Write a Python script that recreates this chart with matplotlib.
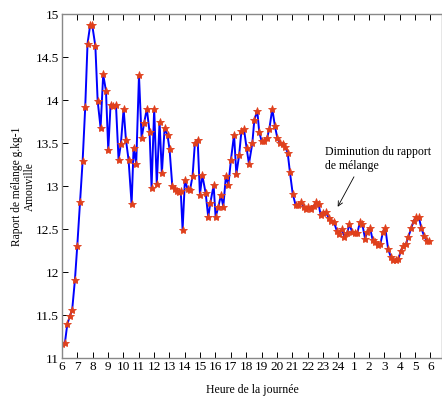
import numpy as np
import matplotlib
matplotlib.use("Agg")
import matplotlib.pyplot as plt

# heure de la journée (6h -> 6h le lendemain, 24h..30h = 0h..6h)
hours = [6.00, 6.20, 6.35, 6.52, 6.67, 6.85, 7.00, 7.18, 7.35, 7.52, 7.67, 7.84,
         7.98, 8.18, 8.33, 8.52, 8.69, 8.87, 9.02, 9.17, 9.34, 9.52, 9.69, 9.84,
         10.02, 10.17, 10.34, 10.54, 10.67, 10.84, 11.02, 11.19, 11.36, 11.53, 11.71, 11.84,
         12.01, 12.18, 12.36, 12.51, 12.69, 12.88, 13.01, 13.19, 13.34, 13.49, 13.62, 13.74,
         13.86, 14.01, 14.18, 14.34, 14.51, 14.66, 14.84, 14.99, 15.14, 15.36, 15.53, 15.66,
         15.88, 16.01, 16.19, 16.36, 16.51, 16.68, 16.84, 17.01, 17.21, 17.36, 17.54, 17.69,
         17.86, 18.03, 18.18, 18.40, 18.53, 18.72, 18.85, 19.01, 19.18, 19.36, 19.51, 19.70,
         19.87, 20.03, 20.20, 20.38, 20.53, 20.70, 20.85, 21.03, 21.22, 21.39, 21.57, 21.74,
         21.89, 22.04, 22.22, 22.40, 22.57, 22.72, 22.85, 23.02, 23.18, 23.37, 23.54, 23.72,
         23.90, 24.07, 24.24, 24.39, 24.57, 24.72, 24.89, 25.07, 25.24, 25.41, 25.56, 25.74,
         25.89, 26.07, 26.24, 26.39, 26.57, 26.74, 26.91, 27.06, 27.24, 27.41, 27.58, 27.76,
         27.91, 28.07, 28.24, 28.41, 28.56, 28.74, 28.91, 29.08, 29.24, 29.41, 29.58, 29.76,
         29.93]

# rapport de mélange (g/kg)
mixing = [11.16, 11.18, 11.39, 11.49, 11.56, 11.91, 12.30, 12.81, 13.29, 13.92, 14.66, 14.87,
          14.87, 14.63, 13.99, 13.68, 14.30, 14.11, 13.42, 13.95, 13.93, 13.95, 13.31, 13.49,
          13.90, 13.54, 13.31, 12.79, 13.45, 13.26, 14.29, 13.56, 13.74, 13.90, 13.63, 12.98,
          13.90, 13.02, 13.75, 13.15, 13.68, 13.59, 13.43, 13.00, 12.97, 12.94, 12.93, 12.94,
          12.49, 13.07, 12.97, 12.95, 13.12, 13.50, 13.54, 12.90, 13.13, 12.92, 12.64, 12.80,
          13.01, 12.64, 12.76, 12.90, 12.76, 13.12, 13.01, 13.31, 13.60, 13.14, 13.36, 13.64,
          13.66, 13.44, 13.26, 13.50, 13.77, 13.88, 13.63, 13.52, 13.52, 13.56, 13.67, 13.90,
          13.70, 13.56, 13.50, 13.49, 13.46, 13.39, 13.16, 12.91, 12.78, 12.78, 12.81, 12.76,
          12.74, 12.76, 12.73, 12.77, 12.81, 12.79, 12.66, 12.69, 12.70, 12.63, 12.60, 12.58,
          12.48, 12.44, 12.50, 12.41, 12.45, 12.56, 12.47, 12.45, 12.46, 12.58, 12.56, 12.39,
          12.47, 12.51, 12.37, 12.35, 12.31, 12.33, 12.47, 12.51, 12.27, 12.18, 12.14, 12.14,
          12.15, 12.25, 12.30, 12.33, 12.41, 12.51, 12.60, 12.64, 12.64, 12.51, 12.42, 12.36,
          12.36]

x_ticks = list(range(6, 31))
x_labels = [str(h) for h in range(6, 25)] + [str(h) for h in range(1, 7)]
y_ticks = [11, 11.5, 12, 12.5, 13, 13.5, 14, 14.5, 15]
y_labels = ["11", "11.5", "12", "12.5", "13", "13.5", "14", "14.5", "15"]

plt.rcParams['font.family'] = ['Liberation Serif', 'DejaVu Serif']

fig = plt.figure(figsize=(4.42, 3.98), dpi=100)
ax = fig.add_axes([0.140, 0.1005, 0.860, 0.8635])

ax.plot(hours, mixing, color='#0000ff', linewidth=1.4, marker='*', markersize=6,
        markerfacecolor='#e0401c', markeredgecolor='#e0401c', markeredgewidth=0.6)

ax.set_xlim(6, 30.75)
ax.set_ylim(11, 15)
ax.set_xticks(x_ticks)
ax.set_xticklabels(x_labels, fontsize=9.5)
ax.set_yticks(y_ticks)
ax.set_yticklabels(y_labels, fontsize=9.5)
ax.tick_params(direction='in', length=4, width=0.7, top=True, right=False, pad=2)
for s in ax.spines.values():
    s.set_color('#888888')
    s.set_linewidth(1.0)

ax.set_ylabel("Raport de mélange g.kg-1\nAmouville", fontsize=8.3, labelpad=0,
              linespacing=1.15)
ax.set_xlabel("Heure de la journée", fontsize=8.5, labelpad=8)

ax.annotate("Diminution du rapport\nde mélange", xy=(23.96, 12.76), xytext=(23.13, 13.47),
            fontsize=8.5, va='top', ha='left', linespacing=1.2,
            arrowprops=dict(arrowstyle='->', color='black', lw=0.6,
                            shrinkA=2, shrinkB=0, relpos=(0.3, 0.0)))

fig.savefig("out.png", dpi=100)
